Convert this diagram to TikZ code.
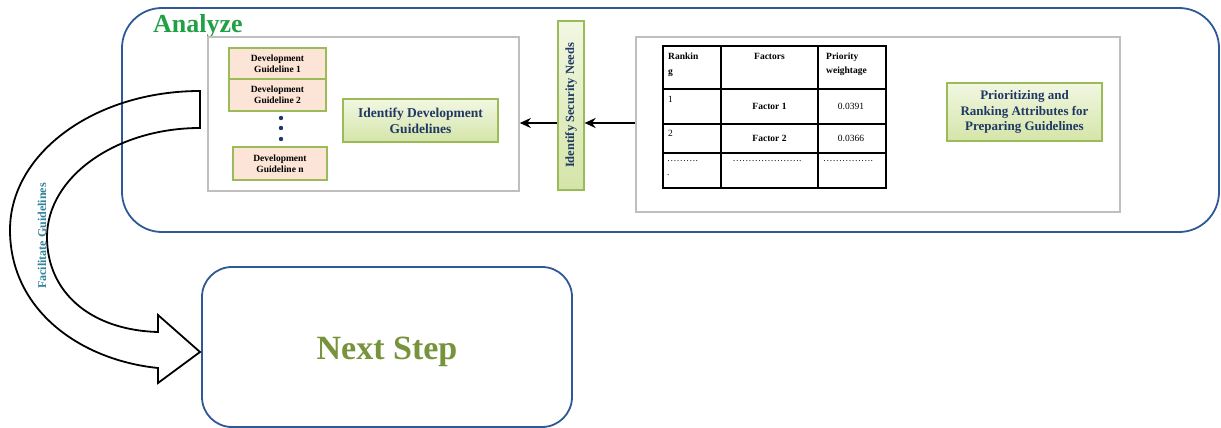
\documentclass[tikz,border=0pt]{standalone}
\usepackage{fontspec}
\setmainfont{Liberation Serif}
\usepackage{xcolor}
\usepackage{tikz}
\usetikzlibrary{arrows.meta}

\definecolor{stageblue}{RGB}{46,89,150}
\definecolor{analyzegreen}{RGB}{34,160,70}
\definecolor{panelgrey}{RGB}{191,191,191}
\definecolor{peach}{RGB}{252,228,214}
\definecolor{boxgreen}{RGB}{155,187,89}
\definecolor{boxtext}{RGB}{31,56,100}
\definecolor{stepgreen}{RGB}{119,147,60}
\definecolor{flowteal}{RGB}{49,132,155}

\tikzset{
  stagebox/.style={draw=stageblue,line width=1.8pt,rounded corners=#1,inner sep=0pt},
  panel/.style={draw=panelgrey,line width=1.6pt,inner sep=0pt},
  guidebox/.style={draw=boxgreen,fill=peach,line width=1.2pt,align=center,inner sep=0pt,
    font=\fontsize{9.5}{11}\selectfont\bfseries},
  taskbox/.style={draw=boxgreen,line width=1.2pt,align=center,inner sep=0pt,
    top color={rgb,255:red,242;green,247;blue,226},bottom color={rgb,255:red,212;green,229;blue,168},
    text=boxtext,font=\fontsize{13.5}{16}\selectfont\bfseries},
  cell/.style={inner sep=0pt,font=\fontsize{9.5}{11}\selectfont},
}

\begin{document}
\begin{tikzpicture}[x=1pt,y=-1pt,>={Stealth[length=11pt,width=10pt]}]
  \useasboundingbox (0,0) rectangle (1221,428);
  \node[stagebox=40pt,minimum width=1097pt,minimum height=224pt] (analyze) at (670.5,120) {};
  \node[anchor=base west,text=analyzegreen,font=\fontsize{26}{30}\selectfont\bfseries,inner sep=0pt] (analyzelbl) at (153,33) {Analyze};
  \node[panel,minimum width=311pt,minimum height=154pt] (guidepanel) at (363.5,114) {};
  \node[panel,minimum width=484pt,minimum height=175pt] (rankpanel) at (878,124.5) {};
  \node[guidebox,minimum width=97pt,minimum height=31pt] (g1) at (277.5,63.5) {Development\\Guideline 1};
  \node[guidebox,minimum width=97pt,minimum height=32pt] (g2) at (277.5,95) {Development\\Guideline 2};
  \node[guidebox,minimum width=94pt,minimum height=33pt] (gn) at (280,163.5) {Development\\Guideline n};
  \foreach \y in {118,128,139}
    \fill[boxtext] (281,\y) circle (2.2pt);
  \node[taskbox,minimum width=155pt,minimum height=43pt] (devguide) at (420.5,120.5) {Identify Development\\Guidelines};
  \node[taskbox,rotate=90,minimum width=169pt,minimum height=26pt,font=\fontsize{12.5}{14}\selectfont\bfseries] (secneeds) at (571,105.5) {Identify Security Needs};
  \node[taskbox,minimum width=155pt,minimum height=58pt,font=\fontsize{13}{15.5}\selectfont\bfseries] (prio) at (1024.5,112) {Prioritizing and\\Ranking Attributes for\\Preparing Guidelines};
  \draw[->,line width=2.8pt] (rankpanel.west |- 0,123) -- (secneeds.south |- 0,123);
  \draw[->,line width=2.8pt] (secneeds.north |- 0,123) -- (guidepanel.east |- 0,123);
  \draw[line width=1.5pt] (663,46) rectangle (886,188);
  \foreach \x in {721,818}
    \draw[line width=1.5pt] (\x,46) -- (\x,188);
  \foreach \y in {89,124,153}
    \draw[line width=1.5pt] (663,\y) -- (886,\y);
  \node[cell,anchor=north west,align=left,font=\fontsize{9.5}{15}\selectfont\bfseries] (hrank) at (668,53) {Rankin\\g};
  \node[cell,anchor=north,font=\fontsize{9.5}{11}\selectfont\bfseries] (hfactor) at (769.5,53) {Factors};
  \node[cell,anchor=north west,align=left,font=\fontsize{9.5}{14}\selectfont\bfseries] (hweight) at (826,53) {Priority\\weightage};
  \node[cell,anchor=north west] (r1) at (668,96) {1};
  \node[cell,font=\fontsize{9.5}{11}\selectfont\bfseries] (f1) at (769.5,106) {Factor 1};
  \node[cell] (w1) at (851,106) {0.0391};
  \node[cell,anchor=north west] (r2) at (668,130) {2};
  \node[cell,font=\fontsize{9.5}{11}\selectfont\bfseries] (f2) at (769.5,138) {Factor 2};
  \node[cell] (w2) at (851,138) {0.0366};
  \node[cell,anchor=north west,align=left,font=\fontsize{9.5}{14}\selectfont] (r3) at (667,160) {……….\\.};
  \node[cell,anchor=north] (f3) at (767,160) {………………….};
  \node[cell,anchor=north] (w3) at (848,160) {…………….};
  \node[stagebox=30pt,minimum width=370pt,minimum height=160pt] (nextstep) at (387,347) {};
  \node[text=stepgreen,font=\fontsize{34}{38}\selectfont\bfseries] (nextlbl) at (387,352) {Next Step};
  \draw[line width=1.8pt,line join=miter]
    (200,91) .. controls (95,91) and (10,153) .. (10,230)
    .. controls (10,310) and (80,360) .. (158,368)
    -- (158,383) -- (200,352) -- (158,315) -- (158,332)
    .. controls (90,330) and (47,292) .. (47,237)
    .. controls (47,177) and (116,128) .. (200,128) -- cycle;
  \node[rotate=90,text=flowteal,font=\fontsize{12}{14}\selectfont\bfseries,inner sep=0pt] (flowlbl) at (42,236) {Facilitate Guidelines};
\end{tikzpicture}
\end{document}
